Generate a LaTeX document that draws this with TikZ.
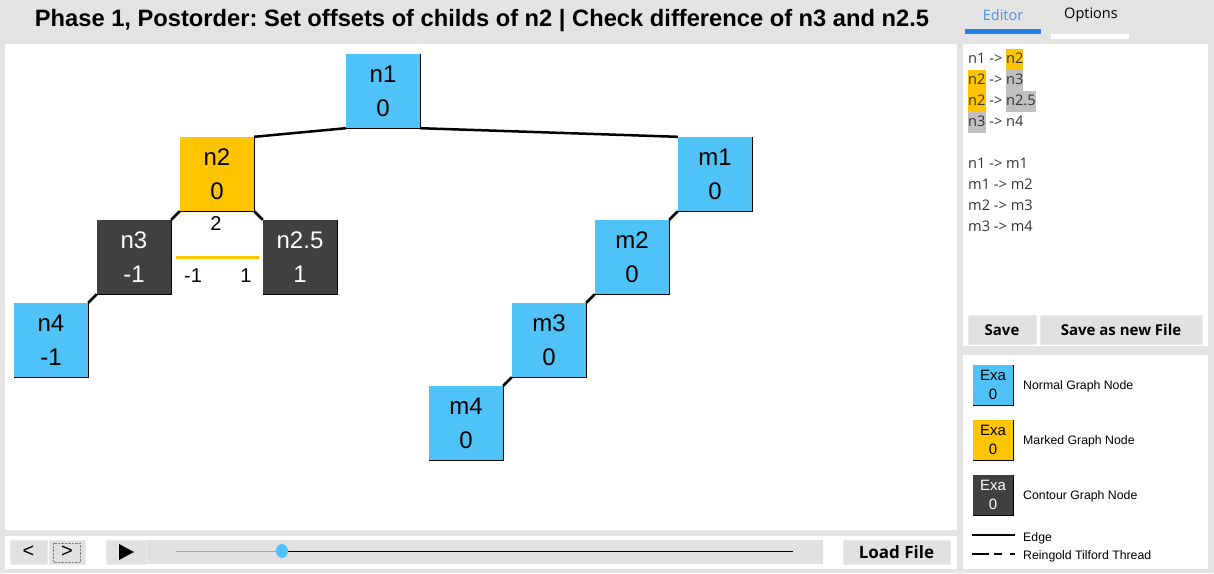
\documentclass[tikz,border=0pt]{standalone}
\usepackage{fontspec}
\setmainfont{Liberation Sans}
\newfontfamily\uifont{Open Sans}

\definecolor{nodeblue}{HTML}{4FC3F7}
\definecolor{markyellow}{HTML}{FFC400}
\definecolor{contourgray}{HTML}{404040}
\definecolor{hlgray}{HTML}{C0C0C0}
\definecolor{panelgray}{HTML}{E3E3E3}
\definecolor{btngray}{HTML}{E1E1E1}
\definecolor{tabblue}{HTML}{2A7DE1}
\definecolor{tabtext}{HTML}{4A90E2}
\definecolor{edtext}{HTML}{333333}

\newcommand\hly[1]{{\setlength\fboxsep{0pt}\colorbox{markyellow}{\strut#1}}}
\newcommand\hlg[1]{{\setlength\fboxsep{0pt}\colorbox{hlgray}{\strut#1}}}
\frenchspacing

\begin{document}
\begin{tikzpicture}
 [
  x=1pt, y=-1pt,
  gnode/.style   = {minimum width=74pt, minimum height=74pt, inner sep=0pt, align=center,
                    font=\fontsize{24}{34}\selectfont},
  normal/.style  = {gnode, fill=nodeblue},
  marked/.style  = {gnode, fill=markyellow},
  contour/.style = {gnode, fill=contourgray, text=white},
  exa/.style     = {minimum width=40pt, minimum height=40pt, inner sep=0pt, align=center,
                    font=\fontsize{15}{19}\selectfont},
  rim/.style     = {line width=1.3pt, black},
  edge/.style    = {line width=2.5pt, black},
  offset/.style  = {font=\fontsize{20}{24}\selectfont},
  btn/.style     = {fill=btngray, draw=white!92!black, inner sep=0pt},
  legendlabel/.style = {anchor=west, inner sep=0pt, font=\fontsize{12.3}{14}\selectfont},
 ]
 \useasboundingbox (0,0) rectangle (1214,573);

 % panels
 \fill[panelgray] (0,0) rectangle (1214,573);
 \fill[white] (5,44) rectangle (957,530);
 \fill[white] (5,536) rectangle (957,569);
 \fill[white] (963,44) rectangle (1208,346);
 \fill[white] (963,355) rectangle (1208,569);

 % title
 \node[font=\bfseries\fontsize{23.7}{28}\selectfont] (title) at (482,21)
  {Phase 1, Postorder: Set offsets of childs of n2 | Check difference of n3 and n2.5};

 % tree
 \node[normal]  (n1)  at (383,91)  {n1\\0};
 \node[marked]  (n2)  at (217,174) {n2\\0};
 \node[contour] (n3)  at (134,257) {n3\\-1};
 \node[contour] (n25) at (300,257) {n2.5\\1};
 \node[normal]  (n4)  at (51,340)  {n4\\-1};
 \node[normal]  (m1)  at (715,174) {m1\\0};
 \node[normal]  (m2)  at (632,257) {m2\\0};
 \node[normal]  (m3)  at (549,340) {m3\\0};
 \node[normal]  (m4)  at (466,423) {m4\\0};

 \foreach \nd in {n1,n2,n3,n25,n4,m1,m2,m3,m4}
  \draw[rim] (\nd.north east) -- (\nd.south east) -- (\nd.south west);

 \draw[edge] (n1.south west) -- (n2.north east);
 \draw[edge] (n1.south east) -- (m1.north west);
 \draw[edge] (n2.south west) -- (n3.north east);
 \draw[edge] (n2.south east) -- (n25.north west);
 \draw[edge] (n3.south west) -- (n4.north east);
 \foreach \a/\b in {m1/m2,m2/m3,m3/m4}
  \draw[edge] (\a.south west) -- (\b.north east);

 % offsets of the childs of n2
 \node[offset] (diff) at (216,224) {2};
 \coordinate (sepl) at (176,257);
 \coordinate (sepr) at (259,257);
 \draw[markyellow, line width=3pt] (sepl) -- (sepr);
 \node[offset] (offl) at (193,276) {-1};
 \node[offset] (offr) at (246,276) {1};

 % tabs
 \node[font=\uifont\fontsize{14.5}{18}\selectfont, text=tabtext] (tabedit) at (1003,15) {Editor};
 \node[font=\uifont\fontsize{14.5}{18}\selectfont] (tabopt) at (1091,15) {Options};
 \fill[tabblue] (965,29) rectangle (1041,34);
 \fill[white] (1051,34) rectangle (1129,39);

 % editor
 \node[anchor=north west, inner sep=0pt, align=left, text=edtext,
       font=\uifont\fontsize{14.6}{21}\selectfont] (code) at (968,49)
  {n1 -> \hly{n2}\\
   \hly{n2} -> \hlg{n3}\\
   \hly{n2} -> \hlg{n2.5}\\
   \hlg{n3} -> n4\\[21pt]
   n1 -> m1\\
   m1 -> m2\\
   m2 -> m3\\
   m3 -> m4};
 \node[btn, minimum width=68pt, minimum height=29pt, font=\uifont\bfseries\fontsize{15}{18}\selectfont]
  (save) at (1002,330) {Save};
 \node[btn, minimum width=162pt, minimum height=29pt, font=\uifont\bfseries\fontsize{15}{18}\selectfont]
  (saveas) at (1121,330) {Save as new File};

 % legend
 \node[exa, fill=nodeblue]    (ex1) at (993,385) {Exa\\0};
 \node[exa, fill=markyellow]  (ex2) at (993,440) {Exa\\0};
 \node[exa, fill=contourgray, text=white] (ex3) at (993,495) {Exa\\0};
 \foreach \nd in {ex1,ex2,ex3}
  \draw[line width=1pt] (\nd.north east) -- (\nd.south east) -- (\nd.south west);
 \node[legendlabel] (lab1) at (1023,386) {Normal Graph Node};
 \node[legendlabel] (lab2) at (1023,441) {Marked Graph Node};
 \node[legendlabel] (lab3) at (1023,496) {Contour Graph Node};
 \coordinate (edge0) at (972,535);
 \coordinate (edge1) at (1015,535);
 \coordinate (thr0) at (972,554);
 \coordinate (thr1) at (1015,554);
 \draw[line width=2.5pt] (edge0) -- (edge1);
 \draw[line width=2.5pt, dash pattern=on 17pt off 5pt on 8pt off 8pt on 5pt off 20pt] (thr0) -- (thr1);
 \node[legendlabel] (lab4) at (1023,538) {Edge};
 \node[legendlabel] (lab5) at (1023,556) {Reingold Tilford Thread};

 % player bar
 \node[btn, minimum width=37pt, minimum height=24pt, font=\fontsize{20}{22}\selectfont] (prev) at (28.5,552) {<};
 \node[btn, minimum width=36pt, minimum height=24pt, font=\fontsize{20}{22}\selectfont] (next) at (67,552) {>};
 \draw[densely dotted, gray] (53,543) rectangle (80,562);
 \fill[btngray] (146,540) rectangle (823,564);
 \node[btn, minimum width=40pt, minimum height=24pt] (play) at (126,552) {};
 \fill[black] (119,544) -- (134,552) -- (119,560) -- cycle;
 \coordinate (sl0) at (176,551);
 \coordinate (knob) at (282,551);
 \coordinate (sl1) at (793,551);
 \draw[nodeblue, line width=1pt] (sl0) -- (knob);
 \draw[black, line width=1pt] (knob) -- (sl1);
 \fill[nodeblue] (knob) ellipse (6 and 7);
 \node[btn, minimum width=107pt, minimum height=24pt, font=\uifont\bfseries\fontsize{17}{20}\selectfont]
  (load) at (896.5,552) {Load File};
\end{tikzpicture}
\end{document}
